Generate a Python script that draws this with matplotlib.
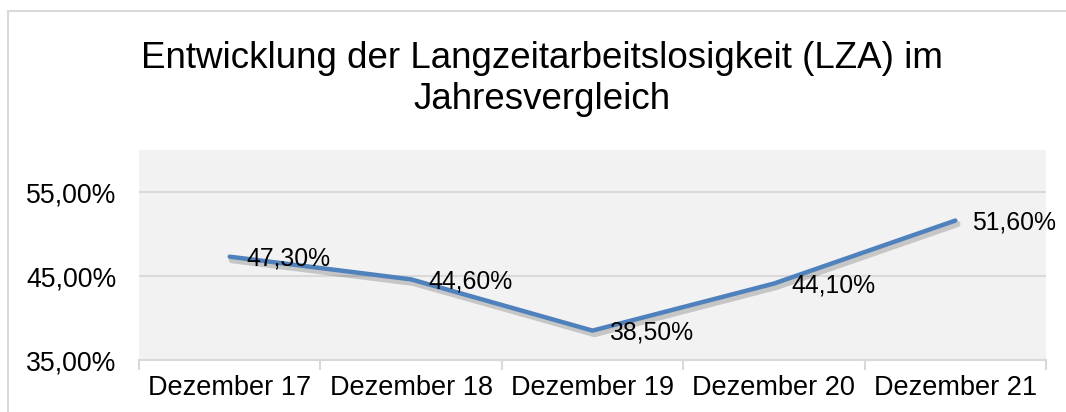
import matplotlib.pyplot as plt
import matplotlib.patheffects as pe
from matplotlib.patches import Rectangle

plt.rcParams["font.family"] = ["Liberation Sans", "DejaVu Sans"]

categories = ["Dezember 17", "Dezember 18", "Dezember 19", "Dezember 20", "Dezember 21"]
values = [47.3, 44.6, 38.5, 44.1, 51.6]
yticks = [35, 45, 55]

fig = plt.figure(figsize=(10.66, 4.12), dpi=100)
W, H = 1066, 412

# outer chart frame
fig.patches.append(Rectangle((8 / W, -0.1), 1.2, (H - 11) / H + 0.1,
                             transform=fig.transFigure, fill=False,
                             edgecolor="#D9D9D9", linewidth=1.5))

ax = fig.add_axes([139 / W, 1 - 360 / H, (1046 - 139) / W, (360 - 150) / H])
ax.set_facecolor("#F2F2F2")

x = list(range(len(categories)))
ax.plot(x, values, color="#4F81BD", linewidth=3.2, solid_capstyle="round",
        path_effects=[pe.SimpleLineShadow(offset=(1.5, -2.5), shadow_color="black",
                                          alpha=0.18, linewidth=4.5),
                      pe.Normal()], zorder=3)

for xi, v in zip(x, values):
    ax.annotate(f"{v:.2f}%".replace(".", ","), (xi, v), xytext=(17, -2),
                textcoords="offset pixels", ha="left", va="center",
                fontsize=17.8, color="black", zorder=4)

ax.set_xlim(-0.5, len(categories) - 0.5)
ax.set_ylim(35, 60)
ax.set_yticks(yticks)
ax.set_yticklabels([f"{t},00%" for t in yticks], fontsize=19.2)
ax.set_xticks(x)
ax.set_xticklabels(categories, fontsize=19.5)
ax.set_xticks([i - 0.5 for i in range(len(categories) + 1)], minor=True)

ax.grid(axis="y", color="#D9D9D9", linewidth=1.5, zorder=1)
ax.set_axisbelow(True)
for s in ["top", "right", "left"]:
    ax.spines[s].set_visible(False)
ax.spines["bottom"].set_color("#D9D9D9")
ax.spines["bottom"].set_linewidth(1.5)

ax.tick_params(axis="y", length=0, pad=16)
ax.tick_params(axis="x", which="major", length=0, pad=11)
ax.tick_params(axis="x", which="minor", length=7, width=1.5, color="#D9D9D9")

fig.text(542 / W, 1 - 79 / H,
         "Entwicklung der Langzeitarbeitslosigkeit (LZA) im\nJahresvergleich",
         ha="center", va="center", fontsize=26.5, linespacing=1.25)

fig.savefig("out.png", dpi=100, facecolor="white")
